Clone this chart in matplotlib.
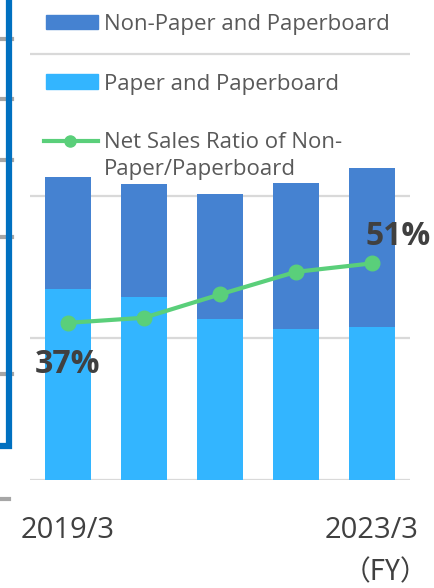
import matplotlib
matplotlib.use("Agg")
import matplotlib.pyplot as plt
from matplotlib.lines import Line2D
from matplotlib.patches import Rectangle

# ---------------------------------------------------------------
# DATA
# ---------------------------------------------------------------
years = ["2019/3", "2020/3", "2021/3", "2022/3", "2023/3"]
paper = [672, 644, 567, 532, 539]          # Paper and Paperboard
non_paper = [395, 398, 440, 514, 560]      # Non-Paper and Paperboard
ratio = [37, 38.2, 43.7, 49, 51]           # net sales ratio of non-paper (%)
tick_labels = ["2019/3", "", "", "", "2023/3"]
legend_labels = ["Non-Paper and Paperboard", "Paper and Paperboard",
                 "Net Sales Ratio of Non-\nPaper/Paperboard"]

C_NON = "#4582D1"
C_PAPER = "#33B5FF"
C_LINE = "#5ACF7A"
C_GRID = "#D9D9D9"
C_TEXT = "#595959"
C_LABEL = "#404040"

W, H = 435, 588
plt.rcParams["font.family"] = ["Open Sans", "DejaVu Sans"]


def fx(x):
    return x / W


def fy(y):
    return 1 - y / H


fig = plt.figure(figsize=(W / 100, H / 100), dpi=100)
ax = fig.add_axes([fx(30), fy(480), (410 - 30) / W, 480 / H])

x = list(range(len(years)))
ax.bar(x, paper, width=0.6, color=C_PAPER, zorder=2)
ax.bar(x, non_paper, width=0.6, bottom=paper, color=C_NON, zorder=2)

ax.set_xlim(-0.5, 4.5)
ax.set_ylim(0, 1690)
ax.set_yticks([0, 500, 1000, 1500])
ax.yaxis.grid(True, color=C_GRID, lw=1.6, zorder=0)
ax.set_axisbelow(True)
ax.set_xticks(x)
ax.set_xticklabels(tick_labels, fontsize=21, color=C_LABEL)
ax.tick_params(axis="x", length=0, pad=26)
for s in ax.spines.values():
    s.set_visible(False)

# ratio line on secondary axis
ax2 = ax.twinx()
ax2.plot(x, ratio, color=C_LINE, lw=3, marker="o", ms=10.5, zorder=3)
ax2.set_ylim(0, 113)
ax2.set_yticks([])
for s in ax2.spines.values():
    s.set_visible(False)
# twinx turns the left ticks back on, so switch them off here
ax.tick_params(axis="y", left=False, right=False, labelleft=False)

ax2.annotate(f"{round(ratio[0])}%", (x[0], ratio[0]), xytext=(0, -30),
             textcoords="offset points", ha="center", va="center",
             fontsize=23, fontweight="bold", color=C_LABEL)
ax2.annotate(f"{round(ratio[-1])}%", (x[-1], ratio[-1]), xytext=(19, 19),
             textcoords="offset points", ha="center", va="center",
             fontsize=23, fontweight="bold", color=C_LABEL,
             annotation_clip=False)

# (FY) unit label
fig.text(fx(428), fy(580), "（FY）", fontsize=20, color=C_LABEL,
         ha="right", va="baseline",
         family=["Noto Sans CJK JP", "DejaVu Sans"])

# ---------------------------------------------------------------
# LEGEND (drawn by hand, no frame)
# ---------------------------------------------------------------
fig.add_artist(Rectangle((fx(46), fy(29)), 52 / W, 14 / H, color=C_NON,
                         transform=fig.transFigure))
fig.add_artist(Rectangle((fx(46), fy(89)), 52 / W, 15 / H, color=C_PAPER,
                         transform=fig.transFigure))
fig.add_artist(Line2D([fx(44), fx(98)], [fy(141), fy(141)], color=C_LINE,
                      lw=3, transform=fig.transFigure))
fig.add_artist(Line2D([fx(70)], [fy(141)], color=C_LINE, marker="o", ms=8,
                      transform=fig.transFigure))
fig.text(fx(104), fy(30), legend_labels[0], fontsize=16, color=C_TEXT,
         va="baseline")
fig.text(fx(104), fy(90), legend_labels[1], fontsize=16, color=C_TEXT,
         va="baseline")
fig.text(fx(104), fy(148), legend_labels[2].split("\n")[0], fontsize=16,
         color=C_TEXT, va="baseline")
fig.text(fx(104), fy(175), legend_labels[2].split("\n")[1], fontsize=16,
         color=C_TEXT, va="baseline")

# ---------------------------------------------------------------
# fragments of the neighbouring panel on the left edge
# ---------------------------------------------------------------
for yy in [39, 99, 160, 237, 374]:
    fig.add_artist(Line2D([0, fx(12)], [fy(yy), fy(yy)], color="#A6A6A6",
                          lw=3, transform=fig.transFigure))
fig.add_artist(Line2D([0, fx(9)], [fy(499), fy(499)], color="#A6A6A6",
                      lw=3, transform=fig.transFigure))
fig.add_artist(Line2D([fx(9), fx(9), 0], [1, fy(446), fy(446)],
                      color="#0070C0", lw=4.5, solid_joinstyle="miter",
                      transform=fig.transFigure))

fig.savefig("out.png", dpi=100)
